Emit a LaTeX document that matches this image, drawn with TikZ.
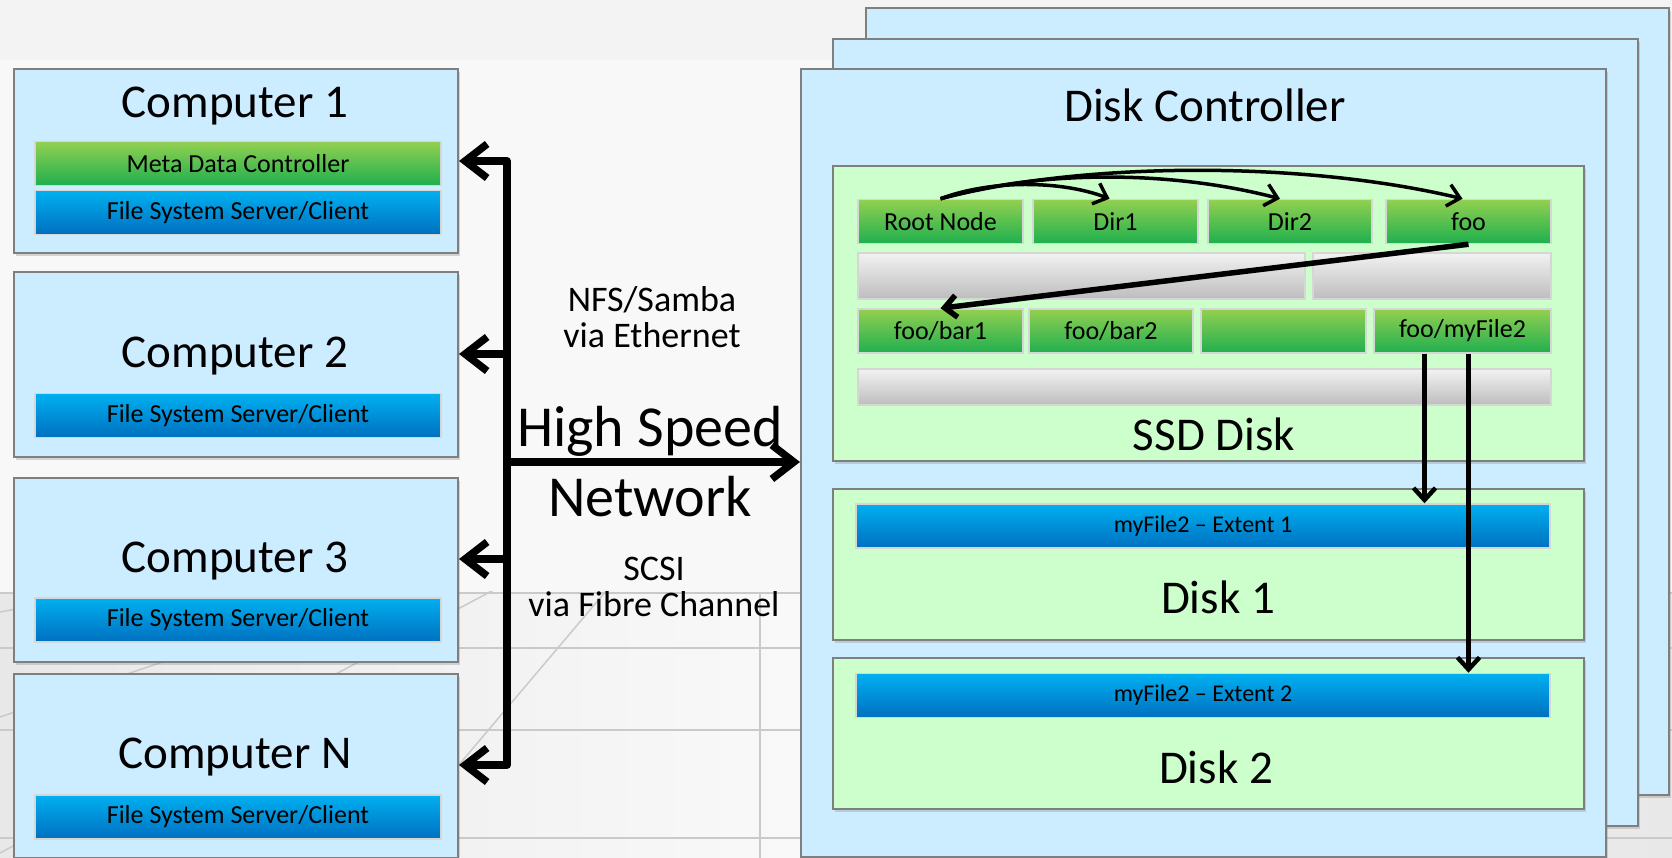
\documentclass[tikz,border=0pt]{standalone}
\usepackage{fontspec}
\setmainfont{Carlito}
\usepackage{tikz}
\usetikzlibrary{arrows.meta, positioning, calc, shadows}

\definecolor{boxblue}{HTML}{CCECFF}
\definecolor{boxgreen}{HTML}{CCFFCC}
\definecolor{edgegray}{HTML}{7F7F7F}
\definecolor{cellrim}{HTML}{D6D6D6}
\definecolor{greentop}{HTML}{92D050}
\definecolor{greenbot}{HTML}{1FAF4F}
\definecolor{bluetop}{HTML}{00B0F0}
\definecolor{bluebot}{HTML}{0070C0}
\definecolor{graytop}{HTML}{F2F2F2}
\definecolor{graybot}{HTML}{BDBDBD}
\definecolor{bgtop}{HTML}{F3F3F3}
\definecolor{bgmid}{HTML}{F8F8F8}
\definecolor{floorside}{HTML}{E8E8E8}
\definecolor{floormid}{HTML}{FAFAFA}
\definecolor{gridgray}{HTML}{CACACA}

\newcommand{\txtsize}[2]{\fontsize{#1}{#2}\selectfont}

\begin{document}
\begin{tikzpicture}[x=1pt, y=-1pt,
    panel/.style={rectangle, draw=edgegray, line width=2pt, fill=boxblue,
        drop shadow={shadow xshift=2pt, shadow yshift=-3pt, opacity=.3}},
    disk/.style={panel, fill=boxgreen},
    cell/.style={rectangle, draw=cellrim, line width=1.5pt, inner sep=0pt,
        minimum height=44pt, font=\txtsize{26}{30}},
    greencell/.style={cell, top color=greentop, bottom color=greenbot},
    bluecell/.style={cell, top color=bluetop, bottom color=bluebot},
    graycell/.style={cell, top color=graytop, bottom color=graybot},
    headtxt/.style={font=\txtsize{47}{56}, inner sep=0pt, anchor=base},
    midlabel/.style={font=\txtsize{36}{36}, align=center, inner sep=0pt},
    biglabel/.style={font=\txtsize{58}{70}, align=center, inner sep=0pt},
    gridline/.style={draw=gridgray, line width=1.5pt},
    bus/.style={line width=7.5pt, line join=round, >={Straight Barb[length=22pt, width=34pt]}},
    ptr/.style={line width=4.5pt, ->, >={Straight Barb[length=12pt, width=22pt]}}]

    \useasboundingbox (0,0) rectangle (1672,858);
    \fill[bgtop] (0,0) rectangle (1672,60);
    \fill[bgmid] (0,60) rectangle (1672,593);
    \shade[left color=floorside, right color=floorside, middle color=floormid] (0,593) rectangle (1672,858);

    \begin{scope}
        \clip (0,591) rectangle (1672,858);
        \foreach \yy in {593,648,730,838}
            \draw[gridline] (0,\yy) -- (1672,\yy);
        \draw[gridline] (760,593) -- (760,858);
        \foreach \yy in {612,717,853}
            \draw[gridline] (700,480) -- ($(700,480)!4!(0,\yy)$);
        \draw[gridline] (700,480) -- ($(700,480)!3!(463,760)$);
    \end{scope}

    \node[panel, minimum width=803pt, minimum height=787pt] (ctrlback) at (1267.5,401.5) {};
    \node[panel, minimum width=805pt, minimum height=787pt] (ctrlmid) at (1235.5,432.5) {};
    \node[panel, minimum width=805pt, minimum height=788pt] (ctrl) at (1203.5,463) {};
    \node[headtxt] (ctrltitle) at (1205,122) {Disk Controller};

    \node[panel, minimum width=444pt, minimum height=184pt] (comp1) at (236,161) {};
    \node[headtxt] (comp1title) at (235,118) {Computer 1};
    \node[greencell, minimum width=406pt] (mdc) at (238,163.5) {Meta Data Controller};
    \node[bluecell, minimum width=406pt] (fss1) at (238,212.5) {File System Server/Client};

    \node[panel, minimum width=444pt, minimum height=184pt] (comp2) at (236,364.5) {};
    \node[headtxt] (comp2title) at (235,367) {Computer 2};
    \node[bluecell, minimum width=406pt] (fss2) at (238,415.5) {File System Server/Client};

    \node[panel, minimum width=444pt, minimum height=184pt] (comp3) at (236,569.5) {};
    \node[headtxt] (comp3title) at (235,572) {Computer 3};
    \node[bluecell, minimum width=406pt] (fss3) at (238,620) {File System Server/Client};

    \node[panel, minimum width=444pt, minimum height=184pt] (compN) at (236,765.5) {};
    \node[headtxt] (compNtitle) at (235,768) {Computer N};
    \node[bluecell, minimum width=406pt] (fssN) at (238,817) {File System Server/Client};

    \coordinate (tap1) at (507,161);
    \coordinate (tap2) at (507,354);
    \coordinate (tap3) at (507,559);
    \coordinate (tapN) at (507,765);
    \coordinate (tapC) at (507,462);

    \draw[bus, <->] (tap1 -| comp1.east) -- (tap1) -- (tapN) -- (tapN -| compN.east);
    \draw[bus, ->] (tap2) -- (tap2 -| comp2.east);
    \draw[bus, ->] (tap3) -- (tap3 -| comp3.east);
    \draw[bus, ->] (tapC) -- (tapC -| ctrl.west);

    \node[midlabel] (nfs) at (652,317) {NFS/Samba\\via Ethernet};
    \node[biglabel] (hsn) at (650,462) {High Speed\\Network};
    \node[midlabel] (scsi) at (654,586.5) {SCSI\\via Fibre Channel};

    \node[disk, minimum width=751pt, minimum height=295pt] (ssd) at (1208.5,313.5) {};
    \node[headtxt] (ssdtitle) at (1214,450) {SSD Disk};
    \node[greencell, minimum width=165pt] (root) at (940.5,221.5) {Root Node};
    \node[greencell, minimum width=165pt] (dir1) at (1115.5,221.5) {Dir1};
    \node[greencell, minimum width=164pt] (dir2) at (1290,221.5) {Dir2};
    \node[greencell, minimum width=165pt] (foo) at (1468.5,221.5) {foo};
    \node[graycell, minimum width=447pt, minimum height=46pt] (freeA) at (1081.5,276) {};
    \node[graycell, minimum width=238pt, minimum height=46pt] (freeB) at (1432,276) {};
    \node[greencell, minimum width=165pt] (bar1) at (940.5,331) {foo/bar1};
    \node[greencell, minimum width=164pt] (bar2) at (1111,331) {foo/bar2};
    \node[greencell, minimum width=165pt] (blank) at (1283.5,331) {};
    \node[greencell, minimum width=177pt] (myfile) at (1462.5,331) {foo/myFile2};
    \node[graycell, minimum width=693pt, minimum height=36pt] (freeC) at (1204.5,387) {};

    \node[disk, minimum width=751pt, minimum height=151pt] (disk1) at (1208.5,564.5) {};
    \node[bluecell, minimum width=694pt, font=\txtsize{24}{28}] (ext1) at (1203,526) {myFile2 – Extent 1};
    \node[headtxt] (disk1title) at (1218,613) {Disk 1};

    \node[disk, minimum width=751pt, minimum height=151pt] (disk2) at (1208.5,733.5) {};
    \node[bluecell, minimum width=694pt, font=\txtsize{24}{28}] (ext2) at (1203,695.5) {myFile2 – Extent 2};
    \node[headtxt] (disk2title) at (1216,783) {Disk 2};

    \draw[ptr, line width=3.5pt] (root.north) .. controls (990,180) and (1060,180) .. ([xshift=-6pt]dir1.north);
    \draw[ptr, line width=3.5pt] (root.north) .. controls (1040,170) and (1170,170) .. ([xshift=-10pt]dir2.north);
    \draw[ptr, line width=3.5pt] (root.north) .. controls (1080,162) and (1300,160) .. ([xshift=-6pt]foo.north);
    \draw[ptr, line width=5.5pt] (foo.south) -- (bar1.north);
    \draw[ptr] ([xshift=-38pt]myfile.south) -- ([xshift=-38pt]myfile.south |- ext1.north);
    \draw[ptr] ([xshift=6pt]myfile.south) -- ([xshift=6pt]myfile.south |- ext2.north);
\end{tikzpicture}
\end{document}
